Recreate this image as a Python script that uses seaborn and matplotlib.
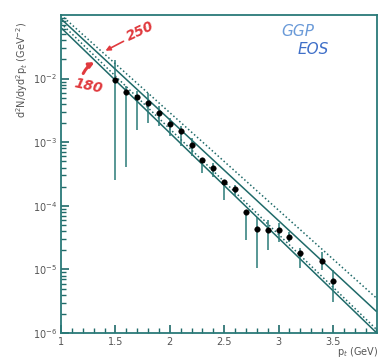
import numpy as np
import pandas as pd
import matplotlib
matplotlib.use("Agg")
import matplotlib.pyplot as plt
import seaborn as sns
from matplotlib.ticker import MultipleLocator, FixedLocator, FixedFormatter, NullFormatter

# ---- data ----
pt = [1.5, 1.6, 1.7, 1.8, 1.9, 2.0, 2.1, 2.2, 2.3, 2.4, 2.5, 2.6, 2.7, 2.8,
      2.9, 3.0, 3.1, 3.2, 3.4, 3.5, 3.95]
yield_val = [9.64e-3, 6.12e-3, 5.08e-3, 4.08e-3, 2.84e-3, 1.92e-3, 1.48e-3,
             8.97e-4, 5.16e-4, 3.93e-4, 2.34e-4, 1.83e-4, 8.05e-5, 4.35e-5,
             4.19e-5, 4.19e-5, 3.21e-5, 1.84e-5, 1.38e-5, 6.59e-6, 5.30e-6]
err_hi = [1.99e-2, 7.57e-3, 6.31e-3, 6.03e-3, 3.66e-3, 2.43e-3, 1.77e-3,
          1.18e-3, 5.70e-4, 4.75e-4, 2.56e-4, 2.14e-4, 8.65e-5, 6.77e-5,
          6.03e-5, 5.39e-5, 3.90e-5, 2.18e-5, 1.90e-5, 9.8e-6, 5.30e-6]
err_lo = [2.56e-4, 4.11e-4, 1.57e-3, 2.03e-3, 1.77e-3, 1.23e-3, 8.59e-4,
          5.97e-4, 3.31e-4, 2.86e-4, 1.24e-4, 1.44e-4, 2.92e-5, 1.04e-5,
          2.03e-5, 2.74e-5, 2.71e-5, 1.06e-5, 9.8e-6, 3.11e-6, 5.30e-6]

model_pt = [1.0, 3.9]
model_180_solid = [6.31e-2, 1.01e-6]
model_180_dotted = [7.41e-2, 1.14e-6]
model_250_solid = [8.71e-2, 2.18e-6]
model_250_dotted = [1.00e-1, 3.54e-6]

xticks = [1, 1.5, 2, 2.5, 3, 3.5]
xticklabels = ["1", "1.5", "2", "2.5", "3", "3.5"]
yticks = [1e-6, 1e-5, 1e-4, 1e-3, 1e-2]
yticklabels = [r"$10^{-6}$", r"$10^{-5}$", r"$10^{-4}$", r"$10^{-3}$", r"$10^{-2}$"]

# ---- figure ----
sns.set_style("ticks")
plt.rcParams['font.family'] = ['DejaVu Sans']
plt.rcParams['ytick.left'] = True
plt.rcParams['ytick.minor.left'] = True
plt.rcParams['ytick.minor.visible'] = True
W, H = 379, 359
fig = plt.figure(figsize=(W / 100, H / 100), dpi=100)
ax = fig.add_axes([61 / W, (H - 333) / H, (377 - 61) / W, (333 - 15) / H])
ax.set_yscale("log")

teal = "#2a7a78"
line_c = "#1f6a69"

df_pts = pd.DataFrame({"pt": pt, "y": yield_val})
models = []
for name, vals in [("180s", model_180_solid), ("180d", model_180_dotted),
                   ("250s", model_250_solid), ("250d", model_250_dotted)]:
    models.append(pd.DataFrame({"pt": model_pt, "y": vals, "model": name}))
df_mod = pd.concat(models)

sns.lineplot(data=df_mod, x="pt", y="y", hue="model", style="model",
             palette=[line_c] * 4,
             dashes={"180s": "", "180d": (1, 1.6), "250s": "", "250d": (1, 1.6)},
             linewidth=1.1, legend=False, ax=ax)

ax.vlines(pt, err_lo, err_hi, colors=teal, linewidth=1.1, zorder=3)
sns.scatterplot(data=df_pts, x="pt", y="y", color="black", s=16,
                edgecolor="black", zorder=4, ax=ax)

ax.set_xlim(1, 3.905)
ax.set_ylim(1e-6, 1e-1)

ax.xaxis.set_major_locator(FixedLocator(xticks))
ax.xaxis.set_major_formatter(FixedFormatter(xticklabels))
ax.xaxis.set_minor_locator(MultipleLocator(0.1))
ax.yaxis.set_major_locator(FixedLocator(yticks))
ax.yaxis.set_major_formatter(FixedFormatter(yticklabels))
minor_y = [m * 10.0 ** e for e in range(-6, -1) for m in range(2, 10)]
ax.yaxis.set_minor_locator(FixedLocator(minor_y))
ax.yaxis.set_minor_formatter(NullFormatter())

ax.tick_params(axis="both", which="major", direction="in", length=6, width=1.2,
               color="#1f6a69", labelsize=7, labelcolor="#555555", pad=3,
               left=True, bottom=True, right=False, top=False)
ax.tick_params(axis="both", which="minor", direction="in", length=3.5, width=1.0,
               color="#1f6a69", left=True, bottom=True, right=False, top=False)
ax.yaxis.set_tick_params(which="both", left=True, tick1On=True)
for t in ax.yaxis.get_major_ticks() + ax.yaxis.get_minor_ticks():
    t.tick1line.set_visible(True)
for s in ax.spines.values():
    s.set_color(teal)
    s.set_linewidth(1.3)
ax.set_xlabel("")
ax.set_ylabel("")

fig.text(22 / W, (H - 22) / H, r"d$^2$N/dyd$^2$p$_t$ (GeV$^{-2}$)", rotation=90,
         ha="center", va="top", fontsize=7, color="#555555")
fig.text(337 / W, (H - 352) / H, r"p$_t$ (GeV)", ha="left", va="center",
         fontsize=7, color="#555555")

# handwritten annotations
red = "#e03a3e"
fig.text(140 / W, (H - 31) / H, "250", rotation=25, ha="center", va="center",
         fontsize=10, color=red, fontstyle="italic", fontweight="bold")
fig.text(88 / W, (H - 86) / H, "180", rotation=-12, ha="center", va="center",
         fontsize=10, color=red, fontstyle="italic", fontweight="bold")
fig.add_artist(matplotlib.patches.FancyArrowPatch(
    (126 / W, (H - 40) / H), (103 / W, (H - 52) / H), transform=fig.transFigure,
    arrowstyle="-|>", mutation_scale=7, color=red, linewidth=1.2))
fig.add_artist(matplotlib.patches.FancyArrowPatch(
    (82 / W, (H - 76) / H), (97 / W, (H - 61) / H), transform=fig.transFigure,
    arrowstyle="-|>", mutation_scale=7, color=red, linewidth=2.2,
    connectionstyle="arc3,rad=-0.2"))
fig.text(298 / W, (H - 31) / H, "GGP", ha="center", va="center",
         fontsize=11, color="#6a9ad8", fontstyle="italic")
fig.text(313 / W, (H - 50) / H, "EOS", ha="center", va="center",
         fontsize=11, color="#3f6fc8", fontstyle="italic")

fig.savefig("out.png", dpi=100)
